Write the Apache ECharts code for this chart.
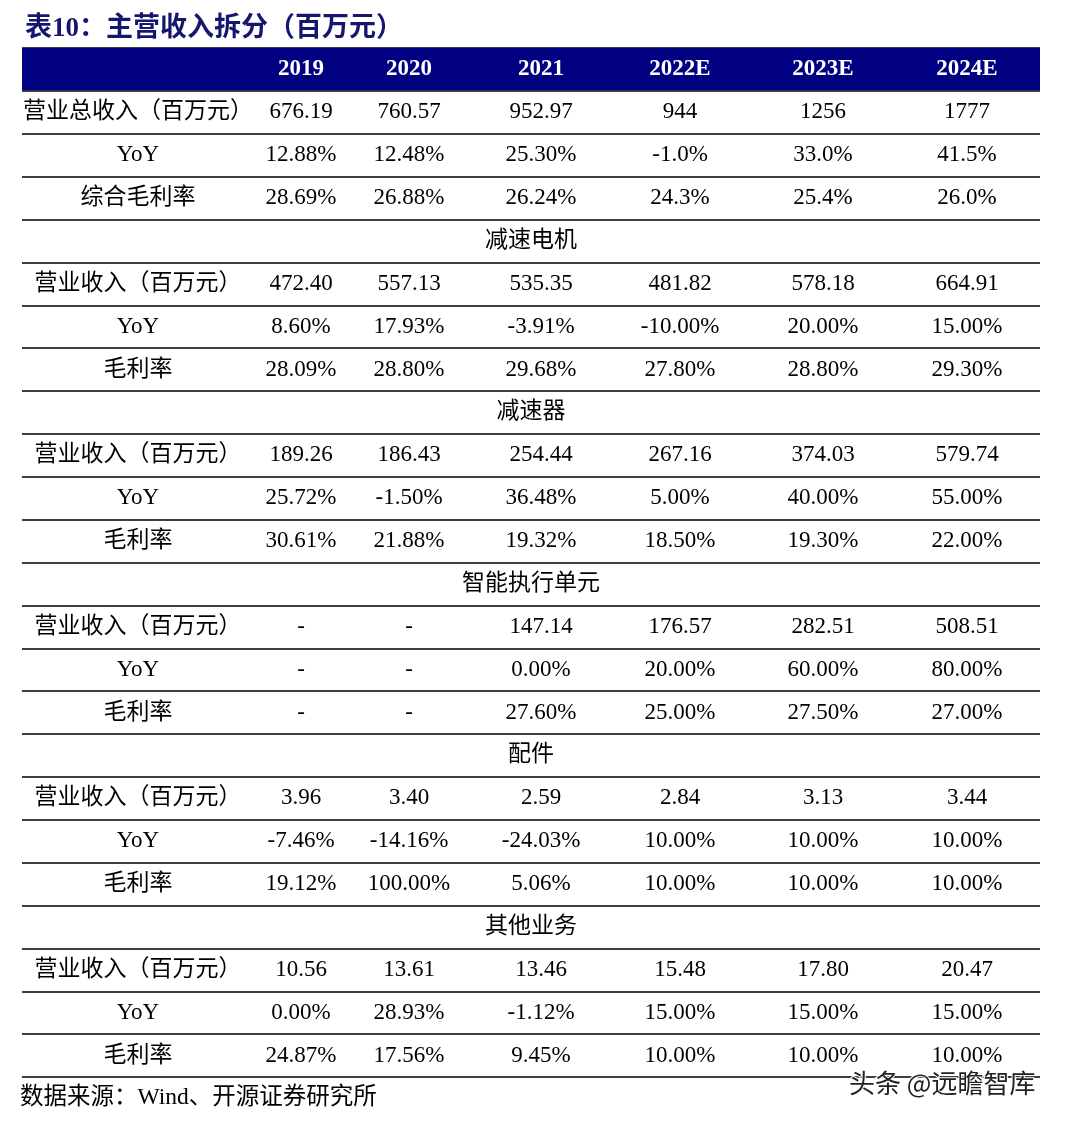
<!DOCTYPE html>
<html>
<head>
<meta charset="utf-8">
<script src="https://cdn.jsdelivr.net/npm/echarts@6/dist/echarts.min.js"></script>
<style>html,body{margin:0;padding:0;background:#fff;}#c{width:1068px;height:1123px;}</style>
</head>
<body>
<div id="c"></div>
<script>
// ---- data ----
const years = ['2019', '2020', '2021', '2022E', '2023E', '2024E'];

const totalRevenue = ['676.19', '760.57', '952.97', '944', '1256', '1777'];
const totalYoY = ['12.88%', '12.48%', '25.30%', '-1.0%', '33.0%', '41.5%'];
const totalGM = ['28.69%', '26.88%', '26.24%', '24.3%', '25.4%', '26.0%'];

const sectionNames = ['减速电机', '减速器', '智能执行单元', '配件', '其他业务'];

const motorRevenue = ['472.40', '557.13', '535.35', '481.82', '578.18', '664.91'];
const motorYoY = ['8.60%', '17.93%', '-3.91%', '-10.00%', '20.00%', '15.00%'];
const motorGM = ['28.09%', '28.80%', '29.68%', '27.80%', '28.80%', '29.30%'];

const reducerRevenue = ['189.26', '186.43', '254.44', '267.16', '374.03', '579.74'];
const reducerYoY = ['25.72%', '-1.50%', '36.48%', '5.00%', '40.00%', '55.00%'];
const reducerGM = ['30.61%', '21.88%', '19.32%', '18.50%', '19.30%', '22.00%'];

const actuatorRevenue = ['-', '-', '147.14', '176.57', '282.51', '508.51'];
const actuatorYoY = ['-', '-', '0.00%', '20.00%', '60.00%', '80.00%'];
const actuatorGM = ['-', '-', '27.60%', '25.00%', '27.50%', '27.00%'];

const partsRevenue = ['3.96', '3.40', '2.59', '2.84', '3.13', '3.44'];
const partsYoY = ['-7.46%', '-14.16%', '-24.03%', '10.00%', '10.00%', '10.00%'];
const partsGM = ['19.12%', '100.00%', '5.06%', '10.00%', '10.00%', '10.00%'];

const otherRevenue = ['10.56', '13.61', '13.46', '15.48', '17.80', '20.47'];
const otherYoY = ['0.00%', '28.93%', '-1.12%', '15.00%', '15.00%', '15.00%'];
const otherGM = ['24.87%', '17.56%', '9.45%', '10.00%', '10.00%', '10.00%'];

const totalLabels = ['营业总收入（百万元）', 'YoY', '综合毛利率'];
const segLabels = ['营业收入（百万元）', 'YoY', '毛利率'];

// ---- layout ----
const COL_X = [138, 301, 409, 541, 680, 823, 967];
const SECTION_X = 531;
const X_MIN = 22, X_MAX = 1040;

// ---- build table ----
const segments = [
  [motorRevenue, motorYoY, motorGM],
  [reducerRevenue, reducerYoY, reducerGM],
  [actuatorRevenue, actuatorYoY, actuatorGM],
  [partsRevenue, partsYoY, partsGM],
  [otherRevenue, otherYoY, otherGM]
];

const headerCells = years.map((y, i) => [COL_X[i + 1], 0.5, y]);
const bodyCells = [];
const sectionCells = [];
let r = 1;
[totalRevenue, totalYoY, totalGM].forEach((vals, k) => {
  bodyCells.push([COL_X[0], r + 0.5, totalLabels[k]]);
  vals.forEach((v, i) => bodyCells.push([COL_X[i + 1], r + 0.5, v]));
  r++;
});
segments.forEach((seg, s) => {
  sectionCells.push([SECTION_X, r + 0.5, sectionNames[s]]);
  r++;
  seg.forEach((vals, k) => {
    bodyCells.push([COL_X[0], r + 0.5, segLabels[k]]);
    vals.forEach((v, i) => bodyCells.push([COL_X[i + 1], r + 0.5, v]));
    r++;
  });
});
const totalRows = r;

const FONT = '"Liberation Serif", "Noto Sans CJK SC", serif';
const txt = p => p.value[2];
const cellLabel = (color, weight) => ({
  show: true, position: 'inside', formatter: txt, color: color, opacity: 1,
  fontSize: 23, fontWeight: weight, fontFamily: FONT
});

const chart = echarts.init(document.getElementById('c'), null, { renderer: 'canvas' });
chart.setOption({
  animation: false,
  backgroundColor: '#fff',
  title: {
    text: '表10：主营收入拆分（百万元）',
    left: 20, top: 11,
    textStyle: { color: '#16166e', fontSize: 27, fontWeight: 'bold', fontFamily: FONT }
  },
  grid: { left: X_MIN, right: 1068 - X_MAX, top: 48, bottom: 46 },
  xAxis: { type: 'value', min: X_MIN, max: X_MAX, show: false },
  yAxis: {
    type: 'value', inverse: true, min: 0, max: totalRows, interval: 1,
    axisLine: { show: false }, axisTick: { show: false }, axisLabel: { show: false },
    splitLine: { show: true, lineStyle: { color: '#000', width: 1.6 } }
  },
  graphic: [
    { type: 'text', left: 20, top: 1086,
      style: { text: '数据来源：Wind、开源证券研究所', fill: '#000', font: '23.5px "Liberation Serif", "Noto Sans CJK SC"' } },
    { type: 'text', left: 848, top: 1069, z: 100,
      style: { text: '头条 @远瞻智库', fill: '#222', stroke: '#fff', lineWidth: 2, font: '26px "Noto Sans CJK SC"' } }
  ],
  series: [
    {
      type: 'scatter', name: 'header', symbolSize: 0, data: headerCells,
      itemStyle: { opacity: 1 },
      label: cellLabel('#fff', 'bold'),
      markArea: {
        silent: true,
        itemStyle: { color: '#000080', opacity: 1 },
        data: [[{ coord: [X_MIN, 0] }, { coord: [X_MAX, 0.985] }]]
      },
      z: 5
    },
    {
      type: 'scatter', name: 'body', symbolSize: 0, data: bodyCells,
      itemStyle: { opacity: 1 },
      label: cellLabel('#000', 'normal')
    },
    {
      type: 'scatter', name: 'sections', symbolSize: 0, data: sectionCells,
      itemStyle: { opacity: 1 },
      label: cellLabel('#000', 'normal')
    }
  ]
});
</script>
</body>
</html>
